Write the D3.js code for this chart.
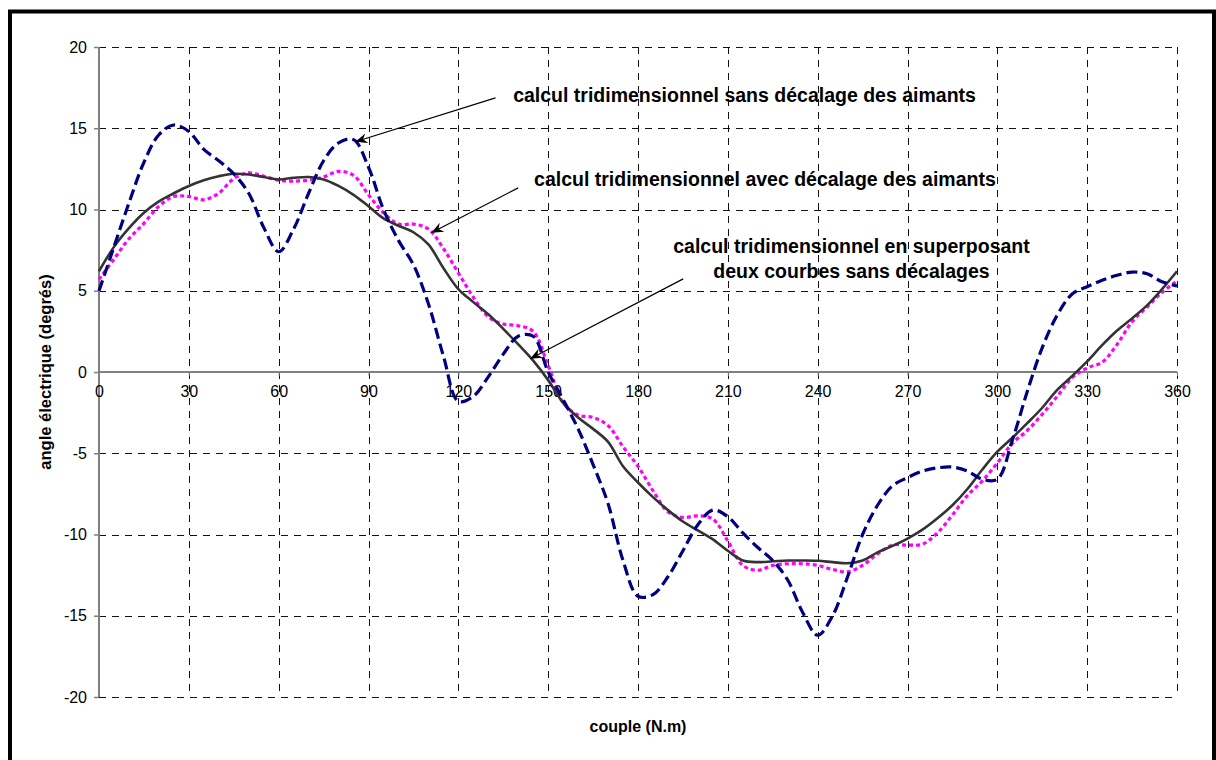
<!DOCTYPE html>
<html>
<head>
<meta charset="utf-8">
<script src="https://cdn.jsdelivr.net/npm/d3@7"></script>
<style>
  html, body { margin: 0; padding: 0; background: #fff; }
  svg { display: block; }
  text { font-family: Arial, "Liberation Sans", sans-serif; }
</style>
</head>
<body>
<svg id="chart" width="1216" height="760"></svg>
<script>
// ---- data ----
const angles = [0,5,10,15,20,25,30,35,40,45,50,55,60,65,70,75,80,85,90,95,100,105,110,115,120,125,130,135,140,145,150,155,160,165,170,175,180,185,190,195,200,205,210,215,220,225,230,235,240,245,250,255,260,265,270,275,280,285,290,295,300,305,310,315,320,325,330,335,340,345,350,355,360];

// calcul tridimensionnel sans décalage des aimants (navy dashed)
const sansDecalage = [5.0,7.7,10.4,12.9,14.6,15.2,14.8,13.7,13.0,12.2,11.0,8.9,7.4,8.8,11.0,13.0,14.1,14.3,12.6,10.0,8.1,6.6,4.2,1.0,-1.8,-1.5,-0.3,1.1,2.2,2.2,0.0,-1.7,-3.5,-5.7,-8.1,-11.6,-13.8,-13.7,-12.6,-11.0,-9.4,-8.5,-8.9,-9.9,-10.8,-11.6,-12.8,-14.8,-16.2,-15.0,-12.6,-10.0,-8.2,-7.0,-6.5,-6.1,-5.9,-5.85,-6.1,-6.6,-6.6,-4.2,-1.2,1.5,3.5,4.8,5.25,5.65,5.95,6.15,6.05,5.55,5.3];

// calcul tridimensionnel avec décalage des aimants (magenta dotted)
const avecDecalage = [5.7,6.95,8.2,9.15,10.2,10.8,10.8,10.6,11.0,11.9,12.25,12.05,11.8,11.75,11.8,12.0,12.35,12.1,10.9,9.8,9.1,9.1,8.8,7.6,6.1,4.6,3.4,2.95,2.85,2.5,0.4,-1.9,-2.65,-2.8,-3.3,-4.6,-5.8,-7.3,-8.6,-8.95,-8.85,-9.05,-10.4,-11.9,-12.2,-11.9,-11.8,-11.8,-11.9,-12.15,-12.3,-11.9,-11.2,-10.65,-10.65,-10.6,-9.9,-8.8,-7.6,-6.7,-5.6,-4.4,-3.6,-2.6,-1.5,-0.35,0.25,0.6,1.7,3.1,4.0,4.9,5.6];

// calcul tridimensionnel en superposant deux courbes sans décalages (dark solid)
const superposant = [6.2,7.7,8.85,9.8,10.5,11.0,11.45,11.8,12.05,12.2,12.15,12.0,11.85,11.95,12.0,11.85,11.45,10.9,10.2,9.45,9.0,8.6,7.85,6.4,5.1,4.3,3.55,2.65,1.7,0.7,-0.5,-1.9,-2.8,-3.5,-4.3,-5.8,-6.8,-7.7,-8.5,-9.2,-9.75,-10.3,-11.0,-11.6,-11.7,-11.65,-11.6,-11.6,-11.62,-11.7,-11.77,-11.6,-11.1,-10.7,-10.25,-9.7,-9.0,-8.2,-7.2,-6.0,-4.9,-4.05,-3.15,-2.2,-1.1,-0.25,0.65,1.65,2.55,3.3,4.1,5.1,6.2];

const xTicks = [0,30,60,90,120,150,180,210,240,270,300,330,360];
const yTicks = [-20,-15,-10,-5,0,5,10,15,20];

const xTitle = "couple (N.m)";
const yTitle = "angle électrique (degrés)";

// annotations: text + arrow (tail -> tip) in data units
const notes = [
  { lines: ["calcul tridimensionnel sans décalage des aimants"], x: 138.3, y: 16.64, anchor: "start", tail: [132.4, 16.87], tip: [85.6, 14.17] },
  { lines: ["calcul tridimensionnel avec décalage des aimants"], x: 145.3, y: 11.42, anchor: "start", tail: [140.0, 11.33], tip: [111.0, 8.57] },
  { lines: ["calcul tridimensionnel en superposant", "deux courbes sans décalages"], x: 251.3, y: 7.32, anchor: "middle", tail: [195.1, 5.73], tip: [144.0, 0.81] }
];

// ---- drawing ----
const svg = d3.select("#chart");
const x = d3.scaleLinear().domain([0, 360]).range([99, 1177]);
const y = d3.scaleLinear().domain([-20, 20]).range([697, 47]);
const px = v => Math.round(v) + 0.5;
const fmt = d => String(d);

// outer frame
svg.append("rect").attr("x", 10).attr("y", 11.5).attr("width", 1204).attr("height", 820)
  .attr("fill", "none").attr("stroke", "#000").attr("stroke-width", 4);

// gridlines
const grid = svg.append("g").attr("stroke", "#111").attr("stroke-width", 1).attr("stroke-dasharray", "7,6");
grid.selectAll("line.h").data(yTicks.filter(d => d !== 0)).join("line")
  .attr("x1", x(0)).attr("x2", x(360)).attr("y1", d => px(y(d))).attr("y2", d => px(y(d)));
grid.selectAll("line.v").data(xTicks.filter(d => d !== 0)).join("line")
  .attr("y1", y(20)).attr("y2", y(-20)).attr("x1", d => px(x(d))).attr("x2", d => px(x(d)));

// axes (library axes, restyled)
const yAxis = svg.append("g").attr("transform", `translate(${x(0)},0)`)
  .call(d3.axisLeft(y).tickValues(yTicks).tickSize(5).tickPadding(7).tickFormat(fmt));
yAxis.select(".domain").attr("stroke", "#808080").attr("stroke-width", 2).attr("d", `M0,${y(-20)}V${y(20)}`);
yAxis.selectAll(".tick line").attr("stroke", "#808080").attr("stroke-width", 1.5);
yAxis.selectAll(".tick text").attr("font-size", 16).attr("fill", "#000").attr("font-family", null);

const xAxis = svg.append("g").attr("transform", `translate(0,${y(0)})`)
  .call(d3.axisBottom(x).tickValues(xTicks).tickSize(4).tickPadding(10).tickFormat(fmt));
xAxis.select(".domain").attr("stroke", "#808080").attr("stroke-width", 2).attr("d", `M${x(0)},0H${x(360)}`);
xAxis.selectAll(".tick line").attr("stroke", "#808080").attr("stroke-width", 1);
xAxis.selectAll(".tick text").attr("font-size", 16).attr("fill", "#000").attr("font-family", null);

// axis titles
svg.append("text").attr("transform", `translate(51,${y(0)}) rotate(-90)`)
  .attr("text-anchor", "middle").attr("font-weight", "bold").attr("font-size", 16.5).text(yTitle);
svg.append("text").attr("x", (x(0) + x(360)) / 2).attr("y", 732)
  .attr("text-anchor", "middle").attr("font-weight", "bold").attr("font-size", 16).text(xTitle);

// series
const lineGen = vals => d3.line()
  .x((d, i) => x(angles[i])).y(d => y(d))
  .curve(d3.curveCatmullRom.alpha(0.5))(vals);

svg.append("path").attr("d", lineGen(avecDecalage)).attr("fill", "none")
  .attr("stroke", "#FF00FF").attr("stroke-width", 3.2).attr("stroke-dasharray", "4,3");
svg.append("path").attr("d", lineGen(superposant)).attr("fill", "none")
  .attr("stroke", "#333333").attr("stroke-width", 2.6);
svg.append("path").attr("d", lineGen(sansDecalage)).attr("fill", "none")
  .attr("stroke", "#000080").attr("stroke-width", 3.2).attr("stroke-dasharray", "11,5");

// arrow marker
svg.append("defs").append("marker").attr("id", "arr")
  .attr("viewBox", "-12 -6 14 12").attr("refX", 0).attr("refY", 0)
  .attr("markerWidth", 14).attr("markerHeight", 12).attr("markerUnits", "userSpaceOnUse")
  .attr("orient", "auto")
  .append("path").attr("d", "M0,0 L-12,-5 L-8,0 L-12,5 Z").attr("fill", "#000");

// annotations
notes.forEach(n => {
  svg.append("line")
    .attr("x1", x(n.tail[0])).attr("y1", y(n.tail[1]))
    .attr("x2", x(n.tip[0])).attr("y2", y(n.tip[1]))
    .attr("stroke", "#000").attr("stroke-width", 1.2).attr("marker-end", "url(#arr)");
  const t = svg.append("text").attr("x", x(n.x)).attr("y", y(n.y))
    .attr("text-anchor", n.anchor).attr("font-weight", "bold").attr("font-size", 19.5);
  n.lines.forEach((l, i) => {
    t.append("tspan").attr("x", x(n.x)).attr("dy", i === 0 ? 0 : 25).text(l);
  });
});
</script>
</body>
</html>
